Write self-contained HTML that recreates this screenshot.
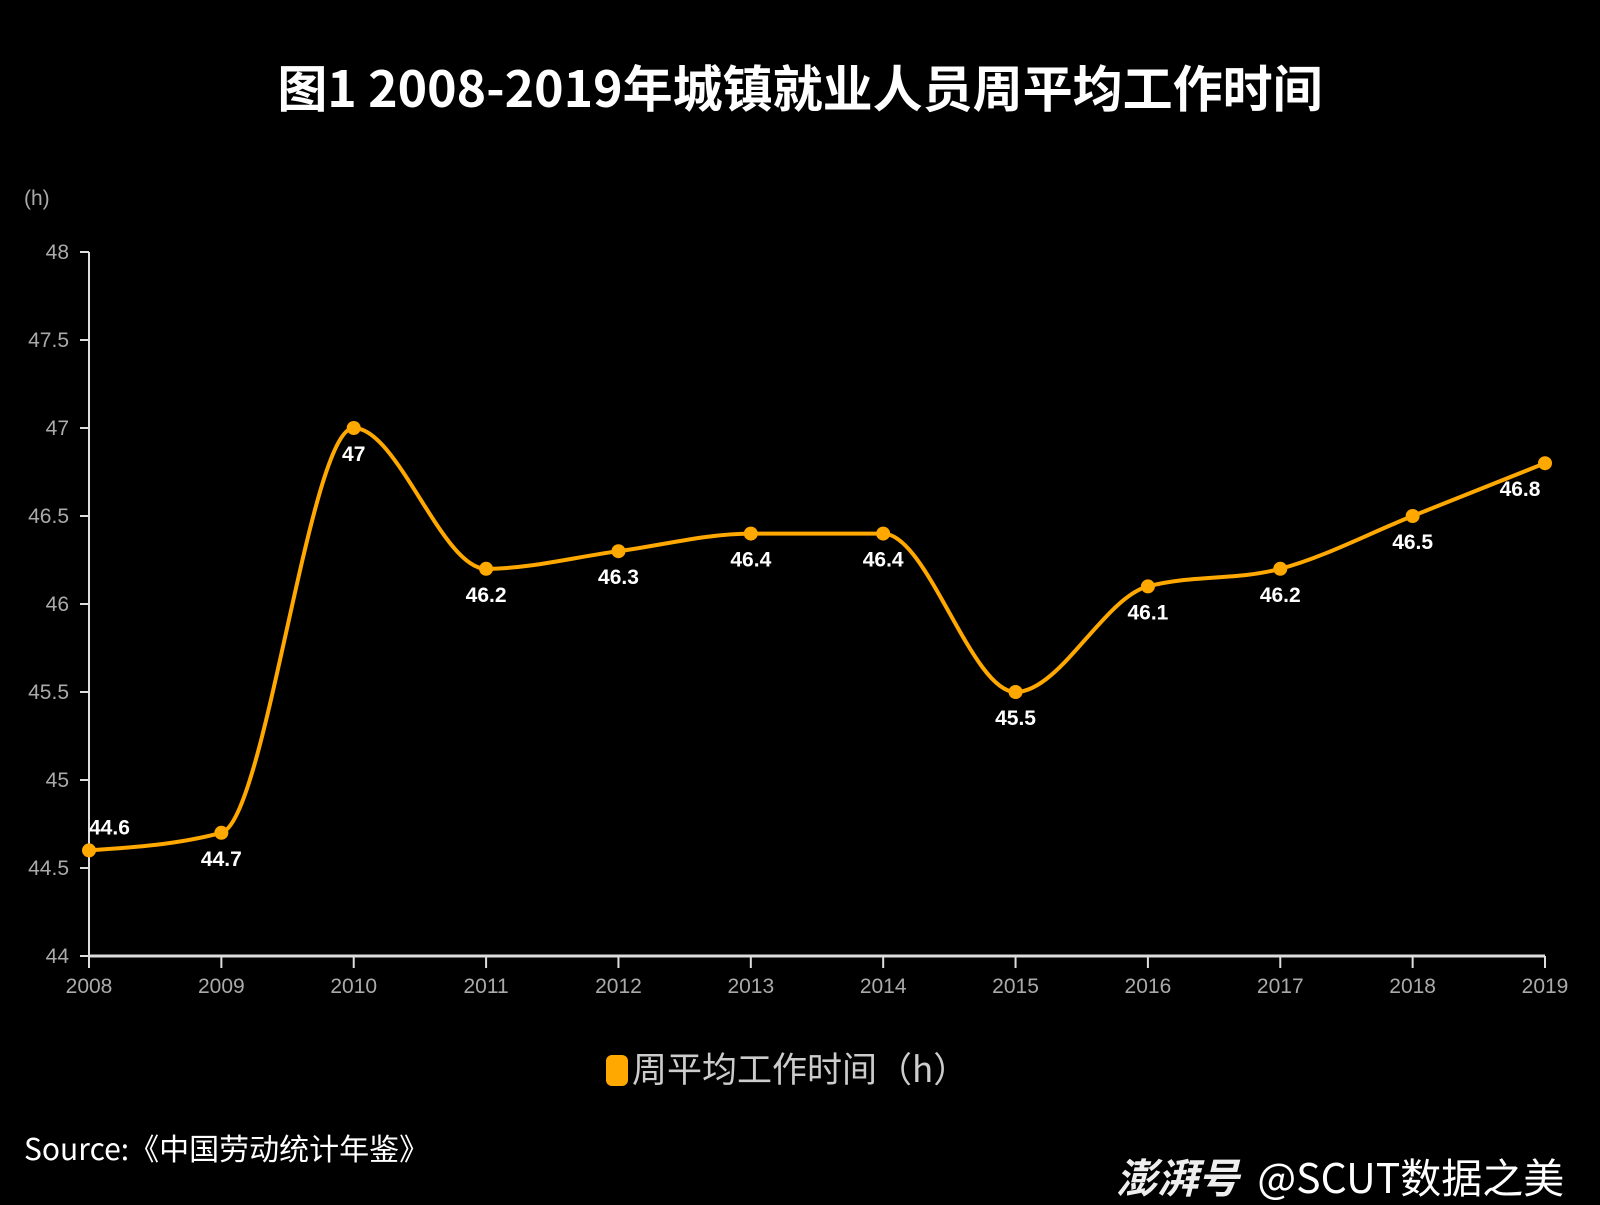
<!DOCTYPE html>
<html><head><meta charset="utf-8"><style>
html,body{margin:0;padding:0;background:#000;}
body{width:1600px;height:1200px;overflow:hidden;position:relative;font-family:"Liberation Sans","Noto Sans CJK SC",sans-serif;}
.t{position:absolute;white-space:nowrap;}
</style></head><body>
<div class="t" style="left:0;width:1600px;top:50px;text-align:center;color:#fff;font-size:50px;font-weight:bold;font-family:'Noto Sans CJK SC',sans-serif;">图1 2008-2019年城镇就业人员周平均工作时间</div>
<div class="t" style="left:24px;top:187px;color:#aaa;font-size:21px;">(h)</div>
<svg id="chart" width="1600" height="1200" style="position:absolute;left:0;top:0" xmlns="http://www.w3.org/2000/svg"></svg>
<div class="t" style="left:606px;top:1042px;color:#ccc;font-size:35px;font-family:'Noto Sans CJK SC',sans-serif;"><span style="display:inline-block;width:22px;height:31px;border-radius:6px;background:#ffa800;vertical-align:-4px;margin-right:4px"></span>周平均工作时间（h）</div>
<div class="t" style="left:24px;top:1125px;color:#fff;font-size:30px;font-family:'Noto Sans CJK SC',sans-serif;">Source:《中国劳动统计年鉴》</div>
<div class="t" style="left:1116px;top:1145px;color:#fff;font-size:41px;font-family:'Noto Sans CJK SC',sans-serif;"><i style="font-weight:bold;color:#eee">澎湃号</i>&nbsp;&nbsp;@SCUT数据之美</div>
<script>
const years=["2008","2009","2010","2011","2012","2013","2014","2015","2016","2017","2018","2019"];
const hours=[44.6,44.7,47,46.2,46.3,46.4,46.4,45.5,46.1,46.2,46.5,46.8];
const yTicks=[44,44.5,45,45.5,46,46.5,47,47.5,48];
const svg=document.getElementById('chart');
const NS='http://www.w3.org/2000/svg';
const x0=89,x1=1545,y0=956,y1=252;
function xs(i){return x0+i*(x1-x0)/(years.length-1);}
function ys(v){return y0-(v-44)/(48-44)*(y0-y1);}
function mk(tag,attrs){const e=document.createElementNS(NS,tag);for(const k in attrs)e.setAttribute(k,attrs[k]);svg.appendChild(e);return e;}
let e=mk('line',{x1:x0,y1:y1,x2:x0,y2:y0,stroke:'#ddd','stroke-width':2});


e=mk('line',{x1:x0,y1:y0,x2:x1,y2:y0,stroke:'#ddd','stroke-width':3});


yTicks.forEach(v=>{
  const y=ys(v);
  let l=mk('line',{x1:x0-9,y1:y,x2:x0,y2:y,stroke:'#ddd','stroke-width':2});
  
  
  let t=mk('text',{x:x0-20,y:y+7,fill:'#aaa','font-size':21,'text-anchor':'end','font-family':'Liberation Sans, sans-serif'});
  t.textContent=v;
  
  
});
years.forEach((yr,i)=>{
  const x=xs(i);
  let l=mk('line',{x1:x,y1:y0,x2:x,y2:y0+12,stroke:'#ddd','stroke-width':2});
  
  
  let t=mk('text',{x:x,y:y0+37,fill:'#aaa','font-size':21,'text-anchor':'middle','font-family':'Liberation Sans, sans-serif'});
  t.textContent=yr;
  
  
});
const P=hours.map((v,i)=>[xs(i),ys(v)]);
const n=P.length;
const T=new Array(n).fill(0);
for(let i=1;i<n-1;i++){
  const h0=P[i][0]-P[i-1][0],h1=P[i+1][0]-P[i][0];
  const s0=(P[i][1]-P[i-1][1])/h0,s1=(P[i+1][1]-P[i][1])/h1;
  const p=(s0*h1+s1*h0)/(h0+h1);
  T[i]=(Math.sign(s0)+Math.sign(s1))*Math.min(Math.abs(s0),Math.abs(s1),0.5*Math.abs(p))||0;
}
{const h=P[1][0]-P[0][0];T[0]=(3*(P[1][1]-P[0][1])/h-T[1])/2;}
{const h=P[n-1][0]-P[n-2][0];T[n-1]=(3*(P[n-1][1]-P[n-2][1])/h-T[n-2])/2;}
let d='M'+P[0][0]+','+P[0][1];
for(let i=0;i<n-1;i++){
  const dx=(P[i+1][0]-P[i][0])/3;
  d+=' C'+(P[i][0]+dx)+','+(P[i][1]+dx*T[i])+' '+(P[i+1][0]-dx)+','+(P[i+1][1]-dx*T[i+1])+' '+P[i+1][0]+','+P[i+1][1];
}
e=mk('path',{d:d,fill:'none',stroke:'#ffa800','stroke-width':4});


hours.forEach((v,i)=>{
  const c=mk('circle',{cx:P[i][0],cy:P[i][1],r:7,fill:'#ffa800'});
  
  
  let dx=0,dy=33,anchor='middle';
  if(i===0){dx=0;dy=-16;anchor='start';}
  if(i===years.length-1){dx=-25;dy=33;}
  const t=mk('text',{x:P[i][0]+dx,y:P[i][1]+dy,fill:'#fff','font-size':21,'font-weight':'bold','text-anchor':anchor,'font-family':'Liberation Sans, sans-serif'});
  t.textContent=v;
  
  
});
</script>
</body></html>
